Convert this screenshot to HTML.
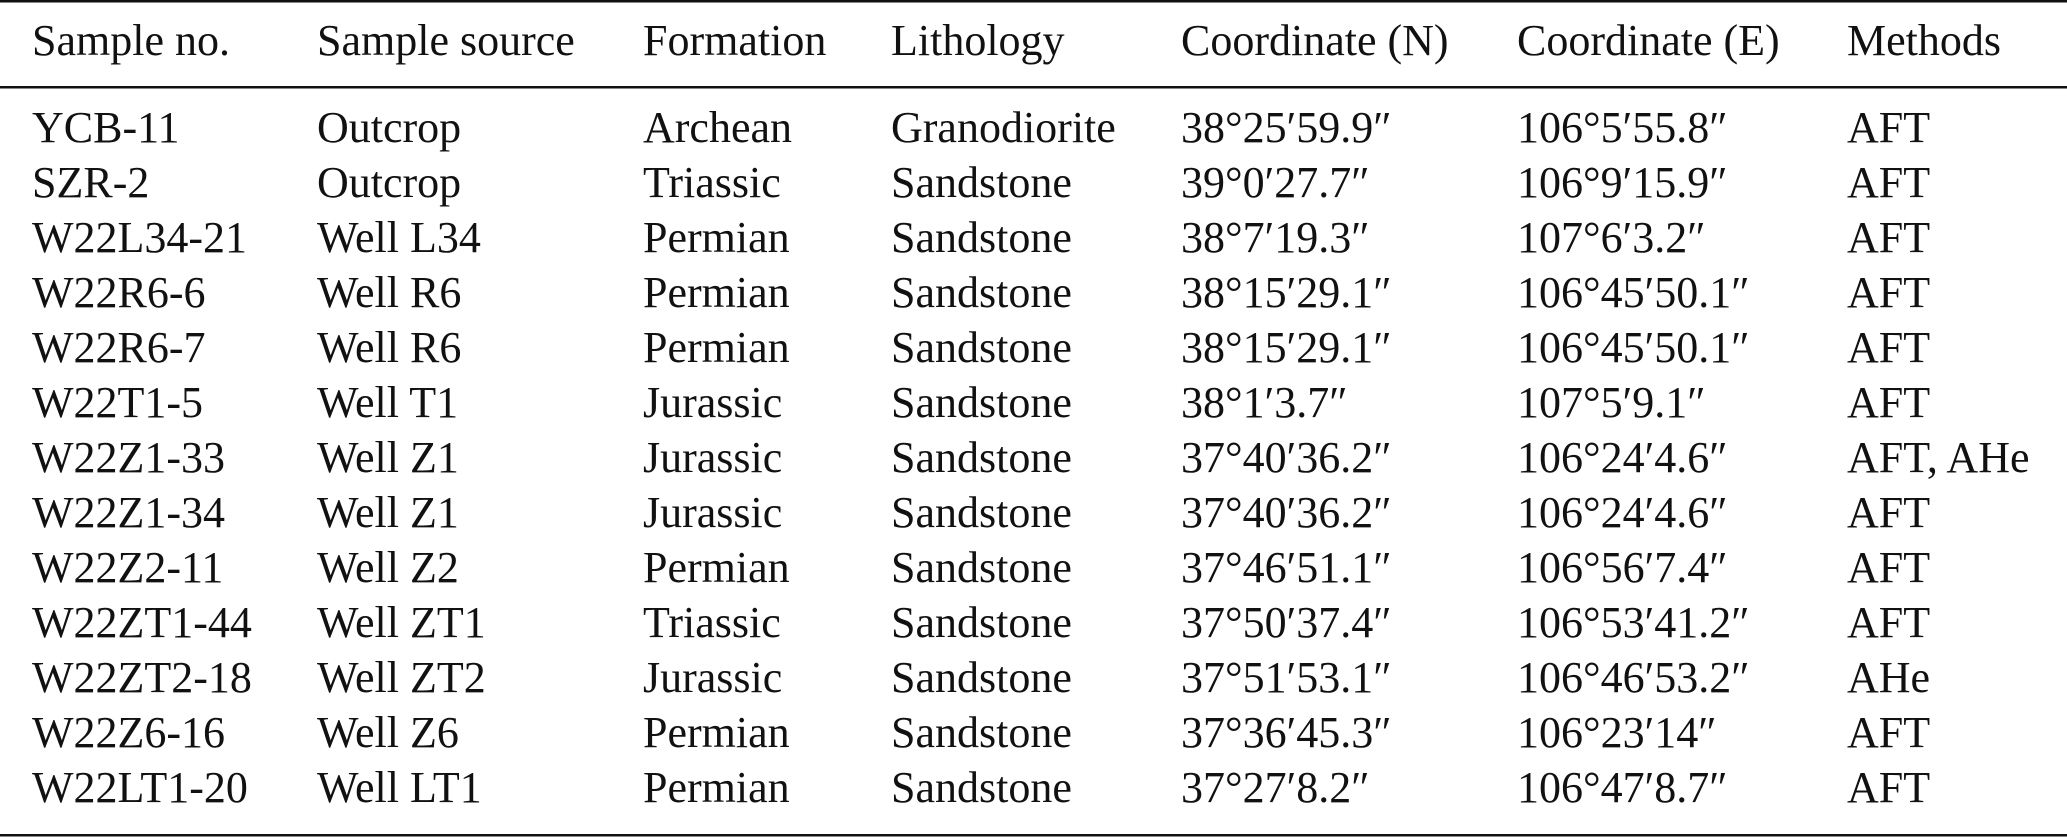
<!DOCTYPE html>
<html><head><meta charset="utf-8"><style>
html,body{margin:0;padding:0;background:#fff;width:2067px;height:837px;overflow:hidden}
svg text{font-family:"Liberation Serif","DejaVu Serif",serif;font-size:44px;fill:#111}
</style></head><body>
<svg width="2067" height="837" xmlns="http://www.w3.org/2000/svg">
<rect x="0" y="0" width="2067" height="2.5" fill="#111"/>
<rect x="0" y="86" width="2067" height="2.5" fill="#111"/>
<rect x="0" y="834" width="2067" height="2.5" fill="#111"/>
<g>
<text x="32" y="55">Sample no.</text><text x="317" y="55">Sample source</text><text x="643" y="55">Formation</text><text x="891" y="55">Lithology</text><text x="1181" y="55">Coordinate (N)</text><text x="1517" y="55">Coordinate (E)</text><text x="1847" y="55">Methods</text>
</g>
<g>
<text x="32" y="142">YCB-11</text><text x="317" y="142">Outcrop</text><text x="643" y="142">Archean</text><text x="891" y="142">Granodiorite</text><text x="1181" y="142">38°25′59.9″</text><text x="1517" y="142">106°5′55.8″</text><text x="1847" y="142">AFT</text>
<text x="32" y="197">SZR-2</text><text x="317" y="197">Outcrop</text><text x="643" y="197">Triassic</text><text x="891" y="197">Sandstone</text><text x="1181" y="197">39°0′27.7″</text><text x="1517" y="197">106°9′15.9″</text><text x="1847" y="197">AFT</text>
<text x="32" y="252">W22L34-21</text><text x="317" y="252">Well L34</text><text x="643" y="252">Permian</text><text x="891" y="252">Sandstone</text><text x="1181" y="252">38°7′19.3″</text><text x="1517" y="252">107°6′3.2″</text><text x="1847" y="252">AFT</text>
<text x="32" y="307">W22R6-6</text><text x="317" y="307">Well R6</text><text x="643" y="307">Permian</text><text x="891" y="307">Sandstone</text><text x="1181" y="307">38°15′29.1″</text><text x="1517" y="307">106°45′50.1″</text><text x="1847" y="307">AFT</text>
<text x="32" y="362">W22R6-7</text><text x="317" y="362">Well R6</text><text x="643" y="362">Permian</text><text x="891" y="362">Sandstone</text><text x="1181" y="362">38°15′29.1″</text><text x="1517" y="362">106°45′50.1″</text><text x="1847" y="362">AFT</text>
<text x="32" y="417">W22T1-5</text><text x="317" y="417">Well T1</text><text x="643" y="417">Jurassic</text><text x="891" y="417">Sandstone</text><text x="1181" y="417">38°1′3.7″</text><text x="1517" y="417">107°5′9.1″</text><text x="1847" y="417">AFT</text>
<text x="32" y="472">W22Z1-33</text><text x="317" y="472">Well Z1</text><text x="643" y="472">Jurassic</text><text x="891" y="472">Sandstone</text><text x="1181" y="472">37°40′36.2″</text><text x="1517" y="472">106°24′4.6″</text><text x="1847" y="472">AFT, AHe</text>
<text x="32" y="527">W22Z1-34</text><text x="317" y="527">Well Z1</text><text x="643" y="527">Jurassic</text><text x="891" y="527">Sandstone</text><text x="1181" y="527">37°40′36.2″</text><text x="1517" y="527">106°24′4.6″</text><text x="1847" y="527">AFT</text>
<text x="32" y="582">W22Z2-11</text><text x="317" y="582">Well Z2</text><text x="643" y="582">Permian</text><text x="891" y="582">Sandstone</text><text x="1181" y="582">37°46′51.1″</text><text x="1517" y="582">106°56′7.4″</text><text x="1847" y="582">AFT</text>
<text x="32" y="637">W22ZT1-44</text><text x="317" y="637">Well ZT1</text><text x="643" y="637">Triassic</text><text x="891" y="637">Sandstone</text><text x="1181" y="637">37°50′37.4″</text><text x="1517" y="637">106°53′41.2″</text><text x="1847" y="637">AFT</text>
<text x="32" y="692">W22ZT2-18</text><text x="317" y="692">Well ZT2</text><text x="643" y="692">Jurassic</text><text x="891" y="692">Sandstone</text><text x="1181" y="692">37°51′53.1″</text><text x="1517" y="692">106°46′53.2″</text><text x="1847" y="692">AHe</text>
<text x="32" y="747">W22Z6-16</text><text x="317" y="747">Well Z6</text><text x="643" y="747">Permian</text><text x="891" y="747">Sandstone</text><text x="1181" y="747">37°36′45.3″</text><text x="1517" y="747">106°23′14″</text><text x="1847" y="747">AFT</text>
<text x="32" y="802">W22LT1-20</text><text x="317" y="802">Well LT1</text><text x="643" y="802">Permian</text><text x="891" y="802">Sandstone</text><text x="1181" y="802">37°27′8.2″</text><text x="1517" y="802">106°47′8.7″</text><text x="1847" y="802">AFT</text>
</g>
</svg>
</body></html>
